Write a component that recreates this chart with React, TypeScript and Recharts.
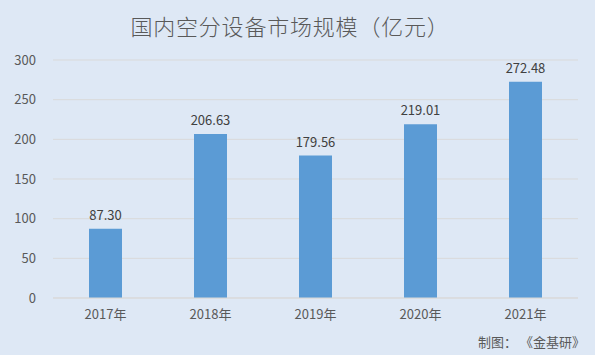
import React from "react";
import { BarChart, Bar, XAxis, YAxis, CartesianGrid, LabelList } from "recharts";

const categories = ["2017年", "2018年", "2019年", "2020年", "2021年"];
const values = [87.3, 206.63, 179.56, 219.01, 272.48];
const yTicks = [0, 50, 100, 150, 200, 250, 300];
const title = "国内空分设备市场规模（亿元）";
const source = "制图： 《金基研》";

const data = categories.map((c, i) => ({ name: c, value: values[i] }));

const FONT = "'Noto Sans CJK SC', 'Microsoft YaHei', sans-serif";
const TEXT = "#595959";

export default function App() {
  return (
    <div style={{ position: "absolute", left: 0, top: 0, width: 595, height: 355, background: "#dee8f5", fontFamily: FONT }}>
      <div style={{ position: "absolute", left: 0, width: 580, top: 10, textAlign: "center", fontSize: 22, fontWeight: 300, color: TEXT, lineHeight: "30px", letterSpacing: 0.8 }}>
        {title}
      </div>
      <div style={{ position: "absolute", right: 10, top: 333, fontSize: 13, color: TEXT, lineHeight: "18px", whiteSpace: "pre" }}>
        {source}
      </div>
      <BarChart width={595} height={355} data={data} margin={{ top: 60, right: 17, left: 0, bottom: 27 }}>
        <CartesianGrid vertical={false} stroke="#d9d9d9" />
        <XAxis
          dataKey="name"
          height={30}
          tickLine={false}
          axisLine={{ stroke: "#d9d9d9" }}
          tickSize={0}
          tickMargin={12}
          tick={{ fill: TEXT, fontSize: 13, fontFamily: FONT }}
        />
        <YAxis
          width={53}
          domain={[0, 300]}
          ticks={yTicks}
          axisLine={false}
          tickLine={false}
          tickSize={0}
          tickMargin={17}
          tick={{ fill: TEXT, fontSize: 13, fontFamily: FONT }}
        />
        <Bar dataKey="value" fill="#5b9bd5" barSize={33} isAnimationActive={false}>
          <LabelList
            dataKey="value"
            position="top"
            offset={9}
            formatter={(v: number) => v.toFixed(2)}
            style={{ fill: "#404040", fontSize: 13, fontFamily: FONT }}
          />
        </Bar>
      </BarChart>
    </div>
  );
}
